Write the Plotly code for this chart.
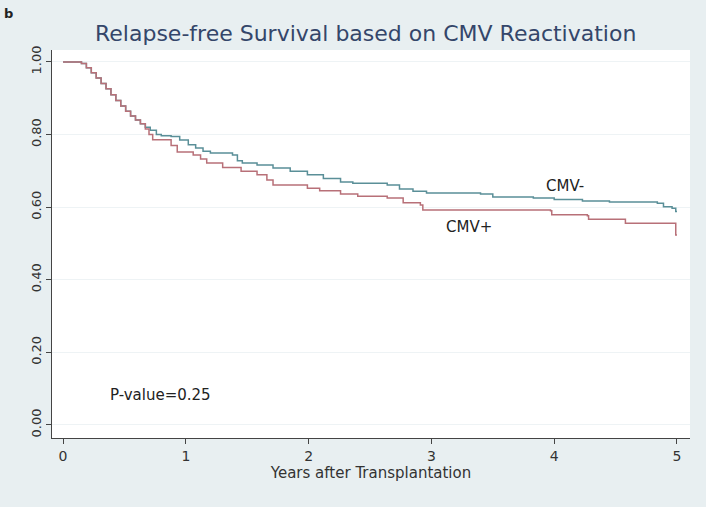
import plotly.graph_objects as go

# Kaplan-Meier step data
cmv_neg_time = [0, 0.15, 0.19, 0.23, 0.27, 0.31, 0.35, 0.39, 0.43, 0.47, 0.51, 0.55, 0.59, 0.63,
                0.67, 0.71, 0.76, 0.80, 0.88, 0.95, 1.02, 1.08, 1.14, 1.20, 1.38, 1.42, 1.46, 1.58,
                1.71, 1.85, 1.99, 2.12, 2.26, 2.36, 2.64, 2.74, 2.85, 2.96, 3.40, 3.50, 3.83, 4.00,
                4.23, 4.45, 4.84, 4.89, 4.96, 4.99, 5.00]
cmv_neg_surv = [1.000, 0.996, 0.984, 0.970, 0.956, 0.941, 0.926, 0.910, 0.894, 0.879, 0.864, 0.851, 0.840, 0.830,
                0.820, 0.812, 0.800, 0.797, 0.795, 0.785, 0.772, 0.763, 0.754, 0.749, 0.744, 0.728, 0.722, 0.716,
                0.708, 0.699, 0.689, 0.679, 0.669, 0.666, 0.661, 0.650, 0.644, 0.639, 0.636, 0.628, 0.625, 0.621,
                0.617, 0.614, 0.611, 0.601, 0.597, 0.588, 0.588]

cmv_pos_time = [0, 0.15, 0.19, 0.23, 0.27, 0.31, 0.35, 0.39, 0.43, 0.47, 0.51, 0.55, 0.59, 0.63,
                0.67, 0.70, 0.73, 0.85, 0.88, 0.93, 1.06, 1.12, 1.17, 1.30, 1.45, 1.58, 1.66, 1.71,
                1.99, 2.09, 2.26, 2.40, 2.64, 2.77, 2.91, 2.93, 3.97, 3.98, 4.27, 4.28, 4.58, 4.98,
                4.99, 5.00]
cmv_pos_surv = [1.000, 0.996, 0.984, 0.970, 0.956, 0.941, 0.926, 0.910, 0.894, 0.879, 0.864, 0.851, 0.840, 0.830,
                0.815, 0.800, 0.786, 0.786, 0.770, 0.752, 0.744, 0.733, 0.722, 0.709, 0.699, 0.689, 0.675, 0.661,
                0.652, 0.645, 0.636, 0.630, 0.625, 0.612, 0.606, 0.592, 0.590, 0.579, 0.576, 0.567, 0.556, 0.556,
                0.523, 0.523]

x_ticks = [0, 1, 2, 3, 4, 5]
y_ticks = [0.0, 0.2, 0.4, 0.6, 0.8, 1.0]

FONT = "DejaVu Sans, Liberation Sans, Arial, sans-serif"
BG = "#e8eff1"

fig = go.Figure()
fig.add_trace(go.Scatter(x=cmv_neg_time, y=cmv_neg_surv, mode="lines", line_shape="hv",
                         line=dict(color="#5a8f98", width=1.5), name="CMV-"))
fig.add_trace(go.Scatter(x=cmv_pos_time, y=cmv_pos_surv, mode="lines", line_shape="hv",
                         line=dict(color="#b87078", width=1.5), name="CMV+"))

fig.add_annotation(x=4.09, y=0.658, text="CMV-", showarrow=False,
                   font=dict(family=FONT, size=15, color="#222222"))
fig.add_annotation(x=3.31, y=0.545, text="CMV+", showarrow=False,
                   font=dict(family=FONT, size=15, color="#222222"))
fig.add_annotation(x=0.79, y=0.083, text="P-value=0.25", showarrow=False,
                   font=dict(family=FONT, size=15, color="#222222"))
fig.add_annotation(xref="paper", yref="paper", x=-0.078, y=1.095, xanchor="left", yanchor="middle",
                   text="<b>b</b>", showarrow=False,
                   font=dict(family=FONT, size=13, color="#222222"))

fig.update_layout(
    width=706, height=507,
    margin=dict(l=52, r=16, t=50, b=69),
    paper_bgcolor=BG, plot_bgcolor="white",
    showlegend=False,
    title=dict(text="Relapse-free Survival based on CMV Reactivation",
               xref="container", x=0.518, xanchor="center", y=0.935, yanchor="middle",
               font=dict(family=FONT, size=22, color="#34466a")),
    xaxis=dict(range=[-0.09, 5.106], tickvals=x_ticks, ticktext=[str(v) for v in x_ticks],
               showgrid=False, zeroline=False, showline=True, linecolor="#444444", linewidth=1.3,
               ticks="outside", ticklen=5, tickcolor="#444444",
               tickfont=dict(family=FONT, size=14, color="#333333"),
               title=dict(text="Years after Transplantation", standoff=0,
                          font=dict(family=FONT, size=15, color="#333333"))),
    yaxis=dict(range=[-0.036, 1.033], tickvals=y_ticks, ticktext=[f"{v:.2f}" for v in y_ticks],
               tickangle=-90, showgrid=True, gridcolor="#eef3f5", gridwidth=1,
               zeroline=False, showline=True, linecolor="#444444", linewidth=1.3,
               ticks="outside", ticklen=5, tickcolor="#444444",
               tickfont=dict(family=FONT, size=13, color="#333333")),
)

fig.write_html("out.html", config={"displayModeBar": False},
               post_script="document.body.style.margin='0';document.body.style.background='#e8eff1';")
